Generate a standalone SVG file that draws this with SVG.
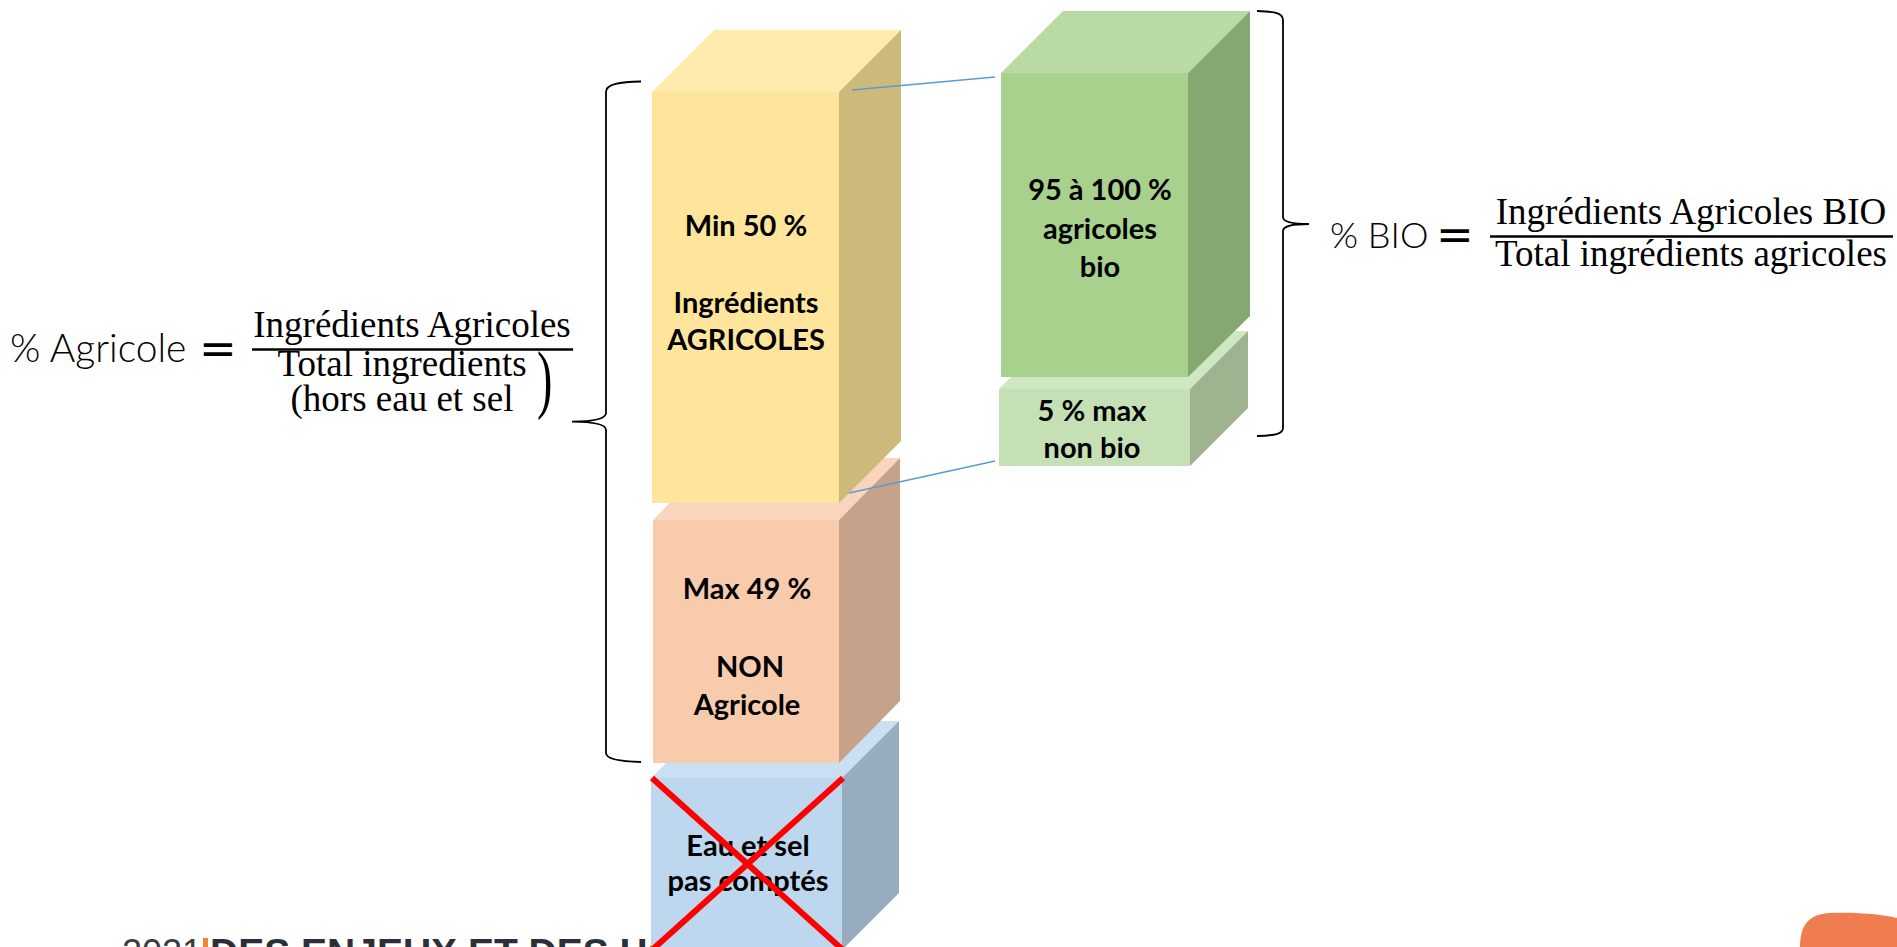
<svg xmlns="http://www.w3.org/2000/svg" width="1897" height="947" viewBox="0 0 1897 947">
<style>
.lbl{font-family:Lato,"Liberation Sans",sans-serif;font-weight:700;font-size:29px;fill:#000;text-anchor:middle}
.math{font-family:"Liberation Serif","DejaVu Serif",serif;font-size:37px;fill:#000;text-anchor:middle}
.lhs{font-family:Lato,"Liberation Sans",sans-serif;font-weight:300;fill:#000}
.eq{font-family:"DejaVu Sans",sans-serif;font-size:45px;fill:#000}
.brace{fill:none;stroke:#000;stroke-width:1.8}
.conn{stroke:#5b9bd5;stroke-width:1.6;fill:none}
.cross{stroke:#ff0000;stroke-width:6;stroke-linecap:butt}
</style>
<rect width="1897" height="947" fill="#fff"/>
<g id="footer">
<text x="122" y="965" font-family="'Liberation Sans',sans-serif" font-size="36" fill="#3a3d44">2021</text>
<rect x="203" y="938" width="5" height="12" fill="#f0853a"/>
<text x="210" y="966" font-family="'Liberation Sans',sans-serif" font-weight="700" font-size="39" fill="#2b2f38">DES ENJEUX ET DES HO</text>
</g>
<g id="blob"><path d="M1800,947 C1800,926 1808,914 1830,913 C1860,912 1885,915 1897,918 L1897,947 Z" fill="#f07d4f"/></g>
<g id="box-water">
<rect x="651" y="778" width="191" height="172" fill="#bdd7ee"/>
<polygon points="651,778 842,778 899,721 708,721" fill="#cadff1"/>
<polygon points="842,778 899,721 899,893 842,950" fill="#97acbe"/>
<text class="lbl" x="748" y="856">Eau et sel</text>
<text class="lbl" x="748" y="891">pas comptés</text>
<line class="cross" x1="652" y1="778" x2="843" y2="950"/>
<line class="cross" x1="843" y1="778" x2="652" y2="950"/>
</g>
<g id="box-nonagri">
<rect x="653" y="520" width="186" height="243" fill="#f8cbad"/>
<polygon points="653,520 839,520 900,458 714,458" fill="#f9d5bd"/>
<polygon points="839,520 900,458 900,701 839,763" fill="#c6a28a"/>
<text class="lbl" x="747" y="599">Max 49 %</text>
<text class="lbl" x="750" y="677">NON</text>
<text class="lbl" x="747" y="715">Agricole</text>
</g>
<g id="box-agri">
<rect x="652" y="92" width="187" height="411" fill="#fee59b"/>
<polygon points="652,92 839,92 901,30 714,30" fill="#feeaad"/>
<polygon points="839,92 901,30 901,441 839,503" fill="#cdb97a"/>
<text class="lbl" x="746" y="236">Min 50 %</text>
<text class="lbl" x="746" y="313">Ingrédients</text>
<text class="lbl" x="746" y="350">AGRICOLES</text>
</g>
<g id="box-nonbio">
<rect x="999" y="389" width="191" height="77" fill="#c5e0b4"/>
<polygon points="999,389 1190,389 1248,331 1057,331" fill="#d1e6c3"/>
<polygon points="1190,389 1248,331 1248,408 1190,466" fill="#9eb390"/>
<text class="lbl" x="1092" y="421">5 % max</text>
<text class="lbl" x="1092" y="458">non bio</text>
</g>
<g id="box-bio">
<rect x="1001" y="73" width="187" height="304" fill="#a9d18e"/>
<polygon points="1001,73 1188,73 1250,11 1063,11" fill="#badaa4"/>
<polygon points="1188,73 1250,11 1250,316 1188,377" fill="#87a772"/>
<text class="lbl" x="1100" y="200">95 à 100 %</text>
<text class="lbl" x="1100" y="239">agricoles</text>
<text class="lbl" x="1100" y="277">bio</text>
</g>
<g id="connectors">
<line class="conn" x1="852" y1="90" x2="995" y2="77"/>
<line class="conn" x1="849" y1="493" x2="995" y2="461"/>
</g>
<g id="brace-left">
<path class="brace" d="M641,81.5 C620,82 606,84 606,92 L606,413 C606,418.5 596,421.5 572,421.7 C596,422 606,425 606,430 L606,753 C606,759 620,761.5 641,762"/>
</g>
<g id="brace-right">
<path class="brace" d="M1257,11 C1275,11.5 1283,13 1283,20 L1283,217 C1283,222 1292,224 1309,224 C1292,224 1283,226 1283,231 L1283,428 C1283,434 1275,435.5 1257,436"/>
</g>
<g id="formula-agri">
<text class="lhs" x="10" y="362" font-size="39">% Agricole</text>
<text class="eq" x="199" y="364">=</text>
<text class="math" x="412" y="337">Ingrédients Agricoles</text>
<line x1="252" y1="349.5" x2="573" y2="349.5" stroke="#000" stroke-width="2.5"/>
<text class="math" x="402" y="376">Total ingredients</text>
<text class="math" x="402" y="411">(hors eau et sel</text>
<text x="0" y="0" font-family="'Liberation Serif',serif" font-size="77" fill="#000" transform="translate(537 404) scale(0.6 1)">)</text>
</g>
<g id="formula-bio">
<text class="lhs" x="1330" y="248" font-size="36">% BIO</text>
<text class="eq" x="1436" y="250">=</text>
<text class="math" x="1691" y="224">Ingrédients Agricoles BIO</text>
<line x1="1490" y1="236.5" x2="1893" y2="236.5" stroke="#000" stroke-width="2.5"/>
<text class="math" x="1691" y="266">Total ingrédients agricoles</text>
</g>
</svg>
